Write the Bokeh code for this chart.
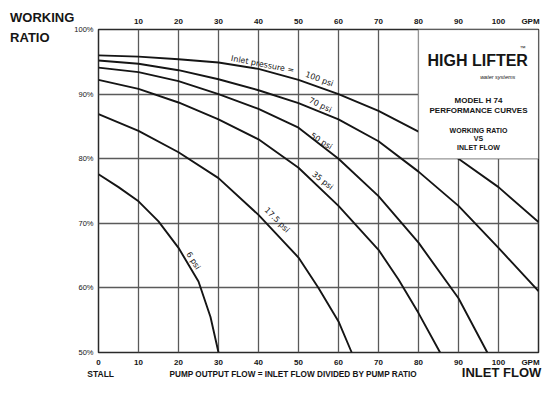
from bokeh.plotting import figure
from bokeh.models import (LinearAxis, FixedTicker, BoxAnnotation, Label,
                          PrintfTickFormatter)
from bokeh.core.properties import value
from bokeh.embed import file_html
from bokeh.resources import INLINE

# ---- data ----
x_100 = [0, 10, 20, 30, 40, 50, 60, 70, 80, 90, 100, 110]
y_100 = [96.0, 95.8, 95.4, 94.9, 93.9, 92.2, 90.0, 87.4, 84.2, 80.0, 75.6, 70.2]
x_70 = [0, 10, 20, 30, 40, 50, 60, 70, 80, 90, 100, 110]
y_70 = [95.2, 94.7, 93.7, 92.3, 90.6, 88.6, 86.1, 82.7, 78.0, 72.7, 66.2, 59.5]
x_50 = [0, 10, 20, 30, 40, 50, 60, 70, 80, 90, 97.2]
y_50 = [94.1, 93.4, 92.0, 90.0, 87.7, 84.8, 80.0, 74.2, 67.0, 58.4, 50.0]
x_35 = [0, 10, 20, 30, 40, 50, 60, 70, 75, 80, 85.4]
y_35 = [92.2, 90.8, 88.7, 86.1, 83.0, 78.6, 72.7, 65.9, 61.3, 56.1, 50.0]
x_175 = [0, 10, 20, 30, 40, 50, 55, 60, 63.3]
y_175 = [86.9, 84.3, 81.0, 77.0, 71.3, 64.7, 60.0, 54.8, 50.0]
x_6 = [0, 5, 10, 15, 20, 25, 28, 30]
y_6 = [77.6, 75.6, 73.4, 70.3, 66.2, 61.0, 55.5, 50.0]

x_ticks = [0, 10, 20, 30, 40, 50, 60, 70, 80, 90, 100]
top_ticks = [10, 20, 30, 40, 50, 60, 70, 80, 90, 100]
y_ticks = [50, 60, 70, 80, 90, 100]
gpm_pos = 108

curve_labels = ["Inlet pressure =", "100 psi", "70 psi", "50 psi", "35 psi", "17.5 psi", "6 psi"]
label_x = [41.0, 55.2, 55.4, 55.7, 56.0, 44.6, 23.7]
label_y = [94.6, 92.3, 88.3, 82.7, 76.6, 70.5, 64.2]
label_angle = [-11, -20, -26, -32, -38, -45, -58]

GRID = "#5a5a5a"
INK = "#151515"
SANS = "Liberation Sans"

p = figure(width=548, height=394, x_range=(0, 110), y_range=(50, 100),
           output_backend="svg", toolbar_location=None,
           min_border_left=98, min_border_right=10, min_border_top=29,
           min_border_bottom=42)
p.background_fill_color = "white"
p.border_fill_color = "white"
p.outline_line_color = "#2a2a2a"
p.outline_line_width = 1.5

# grids
p.xgrid.ticker = FixedTicker(ticks=[10, 20, 30, 40, 50, 60, 70, 80, 90, 100])
p.ygrid.ticker = FixedTicker(ticks=[60, 70, 80, 90])
for g in (p.xgrid[0], p.ygrid[0]):
    g.grid_line_color = GRID
    g.grid_line_width = 1.3

# axes
def style_axis(ax, bold=True, standoff=4):
    ax.axis_line_color = None
    ax.major_tick_line_color = None
    ax.minor_tick_line_color = None
    ax.major_tick_out = 0
    ax.major_tick_in = 0
    ax.minor_tick_out = 0
    ax.minor_tick_in = 0
    ax.major_label_standoff = standoff
    ax.major_label_text_font = SANS
    ax.major_label_text_font_size = "8px"
    ax.major_label_text_font_style = "bold" if bold else "normal"
    ax.major_label_text_color = INK

xb = p.xaxis[0]
xb.ticker = FixedTicker(ticks=x_ticks + [gpm_pos])
xb.major_label_overrides = {gpm_pos: "GPM"}
style_axis(xb, standoff=5)

xt = LinearAxis(ticker=FixedTicker(ticks=top_ticks + [gpm_pos]),
                major_label_overrides={gpm_pos: "GPM"})
style_axis(xt, standoff=4)
p.add_layout(xt, "above")

yl = p.yaxis[0]
yl.ticker = FixedTicker(ticks=y_ticks)
yl.formatter = PrintfTickFormatter(format="%d%%")
style_axis(yl, bold=False, standoff=5)
yl.major_label_text_font_size = "7.5px"

# curves
for xs, ys in [(x_100, y_100), (x_70, y_70), (x_50, y_50),
               (x_35, y_35), (x_175, y_175), (x_6, y_6)]:
    p.line(xs, ys, line_color=INK, line_width=1.9)

# curve labels
p.text(x=label_x, y=label_y, text=curve_labels, angle=label_angle,
       angle_units="deg", text_font=value("DejaVu Sans"),
       text_font_size="8px", text_color=INK, text_align="center",
       text_baseline="middle")

# title box
box = BoxAnnotation(left=80, right=110, bottom=80, top=100,
                    fill_color="white", fill_alpha=1.0,
                    line_color=GRID, line_width=1.3)
p.add_layout(box)

def mk(x, y, t, size, style="bold", align="center", font=SANS, **kw):
    return Label(x=x, y=y, text=t, text_font=font,
                 text_font_size=size, text_font_style=style,
                 text_align=align, text_baseline="middle",
                 text_color=INK, **kw)

p.add_layout(mk(94.8, 95.2, "HIGH LIFTER", "16px", style="bold"))
p.add_layout(mk(106.0, 97.1, "™", "6px", style="normal"))
p.add_layout(mk(99.8, 92.6, "water systems", "5.5px", style="italic"))
p.add_layout(mk(95.0, 89.0, "MODEL H 74", "8px"))
p.add_layout(mk(95.0, 87.4, "PERFORMANCE CURVES", "8px"))
p.add_layout(mk(95.0, 84.4, "WORKING RATIO", "7px"))
p.add_layout(mk(95.0, 83.1, "VS", "7px"))
p.add_layout(mk(95.0, 81.8, "INLET FLOW", "7px"))

# outer texts, placed in side panels so they are not clipped to the frame
# (positions are still given in data units)
p.add_layout(mk(-22.1, 100.3, "WORKING\nRATIO", "13px", align="left",
                text_line_height=1.38), "left")
p.add_layout(mk(-2.8, 46.6, "STALL", "8.5px", align="left"), "above")
p.add_layout(mk(48.7, 46.6, "PUMP OUTPUT FLOW = INLET FLOW DIVIDED BY PUMP RATIO",
                "8.2px"), "below")
p.add_layout(mk(110.7, 46.9, "INLET FLOW", "13px", align="right"), "below")

open("out.html", "w").write(file_html(p, INLINE))
